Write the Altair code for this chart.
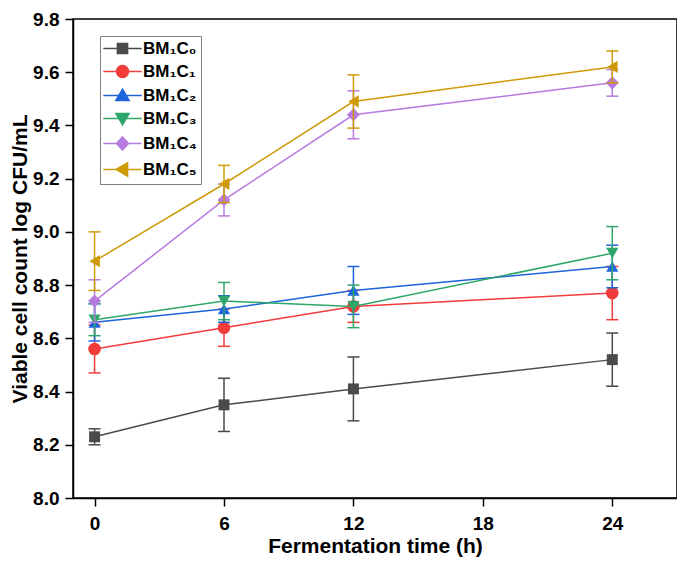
import altair as alt
import pandas as pd

times = [0, 6, 12, 24]
series_names = ["BM₁C₀", "BM₁C₁", "BM₁C₂", "BM₁C₃", "BM₁C₄", "BM₁C₅"]
colors = ["#4a4a4a", "#f23c3c", "#1c64dc", "#2ea66a", "#b77ae0", "#cf9a08"]
shapes = ["square", "circle", "triangle-up", "triangle-down", "diamond", "triangle-left"]
sizes = [120, 160, 150, 150, 170, 150]

c0_mean = [8.23, 8.35, 8.41, 8.52]
c0_sd = [0.03, 0.10, 0.12, 0.10]
c1_mean = [8.56, 8.64, 8.72, 8.77]
c1_sd = [0.09, 0.07, 0.06, 0.10]
c2_mean = [8.66, 8.71, 8.78, 8.87]
c2_sd = [0.07, 0.05, 0.09, 0.08]
c3_mean = [8.67, 8.74, 8.72, 8.92]
c3_sd = [0.06, 0.07, 0.08, 0.10]
c4_mean = [8.74, 9.12, 9.44, 9.56]
c4_sd = [0.08, 0.06, 0.09, 0.05]
c5_mean = [8.89, 9.18, 9.49, 9.62]
c5_sd = [0.11, 0.07, 0.10, 0.06]

means = [c0_mean, c1_mean, c2_mean, c3_mean, c4_mean, c5_mean]
sds = [c0_sd, c1_sd, c2_sd, c3_sd, c4_sd, c5_sd]

x_ticks = [0, 6, 12, 18, 24]
y_ticks = [8.0, 8.2, 8.4, 8.6, 8.8, 9.0, 9.2, 9.4, 9.6, 9.8]

FONT = "Liberation Sans"

# legend symbols: a line segment with the marker on it
legend_paths = [
    "M-3.2,0H3.2M-0.85,-0.85H0.85V0.85H-0.85Z",
    "M-3.2,0H3.2M1,0A1,1,0,1,1,-1,0A1,1,0,1,1,1,0Z",
    "M-3.2,0H3.2M0,-1.05L1.1,0.85H-1.1Z",
    "M-3.2,0H3.2M0,1.05L1.1,-0.85H-1.1Z",
    "M-3.2,0H3.2M0,-1.1L1,0L0,1.1L-1,0Z",
    "M-3.2,0H3.2M-1.05,0L0.85,-1.1V1.1Z",
]

xscale = alt.Scale(domain=[-1, 27], nice=False, zero=False)
yscale = alt.Scale(domain=[8.0, 9.8], nice=False, zero=False)
xaxis = alt.Axis(values=x_ticks, title="Fermentation time (h)", format="d")
yaxis = alt.Axis(values=y_ticks, title="Viable cell count log CFU/mL", format=".1f")

layers = []
for name, mean, sd, col, shp, sz in zip(series_names, means, sds, colors, shapes, sizes):
    df = pd.DataFrame({
        "time": times,
        "mean": mean,
        "lo": [m - s for m, s in zip(mean, sd)],
        "hi": [m + s for m, s in zip(mean, sd)],
    })
    base = alt.Chart(df)
    X = alt.X("time:Q", scale=xscale, axis=xaxis)
    rule = base.mark_rule(color=col, strokeWidth=1.5).encode(
        x=X, y=alt.Y("lo:Q", scale=yscale, axis=yaxis), y2="hi:Q")
    cap_lo = base.mark_tick(color=col, thickness=1.5, size=12, orient="horizontal", opacity=1).encode(
        x=X, y=alt.Y("lo:Q", scale=yscale, axis=yaxis))
    cap_hi = base.mark_tick(color=col, thickness=1.5, size=12, orient="horizontal", opacity=1).encode(
        x=X, y=alt.Y("hi:Q", scale=yscale, axis=yaxis))
    line = base.mark_line(color=col, strokeWidth=1.5).encode(
        x=X, y=alt.Y("mean:Q", scale=yscale, axis=yaxis))
    pts = base.mark_point(shape=shp, filled=True, color=col, size=sz, opacity=1).encode(
        x=X, y=alt.Y("mean:Q", scale=yscale, axis=yaxis))
    layers += [rule, cap_lo, cap_hi, line, pts]

leg_df = pd.DataFrame({"series": series_names})
legend_layer = alt.Chart(leg_df).mark_point(filled=True, size=144, strokeWidth=1.5, opacity=1).encode(
    fill=alt.Fill("series:N", scale=alt.Scale(domain=series_names, range=colors),
                  legend=alt.Legend(
                      title=None, orient="none", legendX=27, legendY=17,
                      strokeColor="#808080", fillColor="white", padding=4,
                      symbolSize=144, symbolStrokeWidth=1.5, symbolOffset=10,
                      labelOffset=12, labelFont=FONT, labelFontSize=17,
                      labelFontWeight="bold", labelColor="black", rowPadding=5)),
    stroke=alt.Stroke("series:N", scale=alt.Scale(domain=series_names, range=colors)),
    shape=alt.Shape("series:N", scale=alt.Scale(domain=series_names, range=legend_paths)),
).transform_filter("false")

chart = alt.layer(*layers, legend_layer).properties(
    width=604, height=479,
    autosize=alt.AutoSizeParams(type="none"),
    padding={"left": 65, "top": 11, "right": 0, "bottom": 62},
).configure_view(
    stroke="black", strokeWidth=1.5
).configure_axis(
    grid=False, domainColor="black", domainWidth=1.5, tickColor="black", tickWidth=1.5,
    tickSize=8, labelFont=FONT, labelFontSize=19, labelFontWeight="bold", labelColor="black",
    titleFont=FONT, titleFontSize=21, titleFontWeight="bold", titleColor="black",
).configure_axisX(
    labelPadding=8, titlePadding=2
).configure_axisY(
    labelPadding=6, titlePadding=2
)

chart.save("out.html", embed_options={"renderer": "svg", "actions": False})
